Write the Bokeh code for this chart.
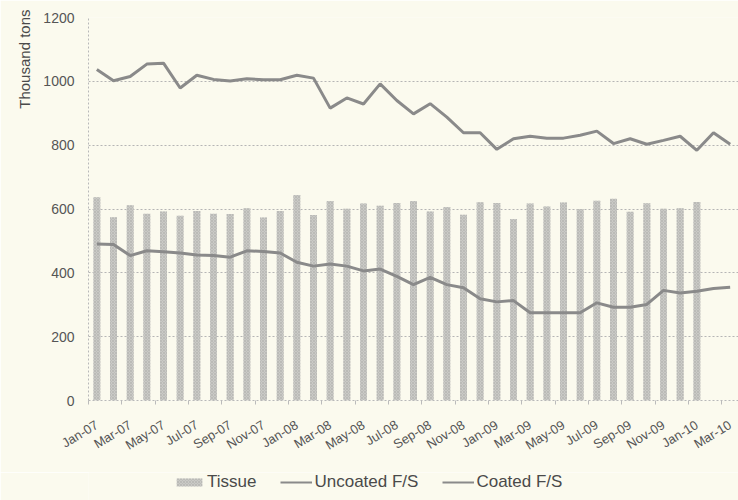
from bokeh.plotting import figure
from bokeh.models import Range1d, FixedTicker, Legend, LegendItem, Title
from bokeh.layouts import column
from bokeh.embed import file_html
from bokeh.resources import INLINE

months = ["Jan-07", "Feb-07", "Mar-07", "Apr-07", "May-07", "Jun-07", "Jul-07", "Aug-07",
          "Sep-07", "Oct-07", "Nov-07", "Dec-07",
          "Jan-08", "Feb-08", "Mar-08", "Apr-08", "May-08", "Jun-08", "Jul-08", "Aug-08",
          "Sep-08", "Oct-08", "Nov-08", "Dec-08",
          "Jan-09", "Feb-09", "Mar-09", "Apr-09", "May-09", "Jun-09", "Jul-09", "Aug-09",
          "Sep-09", "Oct-09", "Nov-09", "Dec-09",
          "Jan-10", "Feb-10", "Mar-10"]

# Tissue: Jan-07 .. Jan-10 (no bars for Feb-10, Mar-10)
tissue = [637, 574, 612, 585, 592, 579, 594, 585, 584, 602, 573, 594,
          644, 581, 625, 601, 617, 610, 619, 625, 592, 606, 582, 621,
          619, 569, 617, 608, 620, 600, 626, 632, 591, 618, 601, 602,
          622]

uncoated = [1037, 1002, 1015, 1054, 1057, 979, 1019, 1006, 1001, 1008, 1005, 1005,
            1019, 1010, 916, 948, 929, 992, 940, 898, 930, 888, 839, 839,
            787, 820, 828, 822, 822, 831, 844, 805, 820, 803, 815, 828,
            784, 839, 803]

coated = [490, 489, 454, 469, 466, 462, 456, 454, 449, 469, 467, 462,
          433, 421, 428, 421, 406, 412, 389, 363, 386, 363, 353, 319,
          309, 313, 275, 275, 275, 275, 306, 292, 292, 301, 345, 337,
          342, 351, 355]

y_ticks = [0, 200, 400, 600, 800, 1000, 1200]
label_months = months[::2]
series_names = ["Tissue", "Uncoated F/S", "Coated F/S"]

BG = "#fbfaee"
FONT = "Liberation Sans"
LINE = "#8a8a8a"
BAR = "#cacac6"
BAR_HATCH = "#b0b0ac"

x_all = list(range(len(months)))
x_bars = x_all[:len(tissue)]

p = figure(width=738, height=472, output_backend="svg", toolbar_location=None,
           x_range=Range1d(-0.5, len(months) - 0.5), y_range=Range1d(0, 1200),
           min_border_left=88, min_border_top=17, min_border_bottom=72, min_border_right=0)
p.background_fill_color = BG
p.border_fill_color = BG
p.outline_line_color = None

p.vbar(x=x_bars, top=tissue, width=0.42, fill_color=BAR, line_color=None,
       hatch_pattern="x", hatch_scale=3, hatch_color=BAR_HATCH, hatch_weight=0.6)
p.line(x_all, uncoated, line_color=LINE, line_width=3)
p.line(x_all, coated, line_color=LINE, line_width=3)

# y axis
p.yaxis.ticker = FixedTicker(ticks=y_ticks)
p.yaxis.major_label_text_font = FONT
p.yaxis.major_label_text_font_size = "14px"
p.yaxis.major_label_text_color = "#555555"
p.yaxis.major_label_standoff = 14
p.yaxis.major_tick_out = 0
p.yaxis.major_tick_in = 0
p.yaxis.major_tick_line_color = None
p.yaxis.minor_tick_line_color = None
p.yaxis.axis_line_color = "#b8b8b8"
p.yaxis.axis_line_dash = "2 2"

ytitle = Title(text="Thousand tons", align="right", vertical_align="top", text_font=FONT,
               text_font_size="15px", text_font_style="normal", text_color="#4a4a4a",
               standoff=12, offset=-8)
p.add_layout(ytitle, "left")

# x axis
tick_pos = x_all[::2]
p.xaxis.ticker = FixedTicker(ticks=tick_pos, minor_ticks=[t - 0.5 for t in tick_pos])
p.xaxis.major_label_overrides = {i: m for i, m in zip(tick_pos, label_months)}
p.xaxis.major_label_orientation = 0.55
p.xaxis.major_label_text_font = FONT
p.xaxis.major_label_text_font_size = "13px"
p.xaxis.major_label_text_color = "#555555"
p.xaxis.major_label_standoff = 19
p.xaxis.major_tick_out = 0
p.xaxis.major_tick_in = 0
p.xaxis.major_tick_line_color = None
p.xaxis.minor_tick_line_color = "#bbbbbb"
p.xaxis.minor_tick_out = 4
p.xaxis.minor_tick_in = 0
p.xaxis.axis_line_color = "#b8b8b8"
p.xaxis.axis_line_dash = "2 2"

p.xgrid.visible = False
p.ygrid.ticker = FixedTicker(ticks=y_ticks)
p.ygrid.grid_line_color = "#b5b5b5"
p.ygrid.grid_line_dash = "2 2"

# legend strip (frame aligned with the chart frame by the column layout)
lg = figure(width=738, height=28, output_backend="svg", toolbar_location=None,
            x_range=Range1d(0, 1), y_range=Range1d(0, 1),
            x_axis_type=None, y_axis_type=None,
            min_border_left=0, min_border_right=0, min_border_top=0, min_border_bottom=0)
lg.background_fill_color = BG
lg.border_fill_color = BG
lg.outline_line_color = None
lg.xgrid.visible = False
lg.ygrid.visible = False
# legend-only renderers, placed outside the visible range
r_bar = lg.vbar(x=[5], top=[1], width=0.4, fill_color=BAR, line_color=None,
                hatch_pattern="x", hatch_scale=3, hatch_color=BAR_HATCH, hatch_weight=0.6)
r_unc = lg.line(x=[5, 6], y=[5, 5], line_color=LINE, line_width=2)
r_coat = lg.line(x=[5, 6], y=[5, 5], line_color=LINE, line_width=2)

legend = Legend(items=[LegendItem(label=series_names[0], renderers=[r_bar]),
                       LegendItem(label=series_names[1], renderers=[r_unc]),
                       LegendItem(label=series_names[2], renderers=[r_coat])],
                location=(85, 8), orientation="horizontal",
                background_fill_alpha=0, border_line_color=None,
                padding=0, margin=0, spacing=24, glyph_width=32, glyph_height=10,
                label_standoff=2, label_text_font=FONT, label_text_font_size="17px",
                label_text_color="#4a4a4a")
lg.add_layout(legend)

layout = column(p, lg, spacing=0)
open("out.html", "w").write(file_html(layout, INLINE))
